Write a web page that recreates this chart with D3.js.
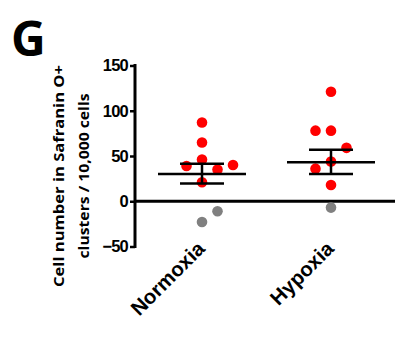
<!DOCTYPE html>
<html>
<head>
<meta charset="utf-8">
<script src="https://cdn.jsdelivr.net/npm/d3@7"></script>
<style>
  body { margin: 0; background: #fff; }
  svg { display: block; }
  text { font-family: "Liberation Sans", Arial, sans-serif; font-weight: bold; }
</style>
</head>
<body>
<svg id="chart" width="398" height="338"></svg>
<script>
// groups on the x axis
const groups = ['Normoxia', 'Hypoxia']

// red points (counted)
const normoxiaRed = [87, 65, 46, 39, 35, 40, 21]
const hypoxiaRed = [121, 78, 78, 59, 44, 36, 18]
// grey points (below zero)
const normoxiaGrey = [-23, -11]
const hypoxiaGrey = [-7]
// column of each point in the scatter (-1 left, 0 centre, 1 right)
const normoxiaRedCol = [0, 0, 0, -1, 1, 2, 0]
const hypoxiaRedCol = [0, -1, 0, 1, 0, -1, 0]
const normoxiaGreyCol = [0, 1]
const hypoxiaGreyCol = [0]

// mean and SEM
const means = [30, 43]
const semHigh = [41.5, 57]
const semLow = [19.7, 30]

const yTicks = [150, 100, 50, 0, -50]

const svg = d3.select('#chart')

const y = d3.scaleLinear().domain([-50, 150]).range([246.5, 65.5])
const x = d3.scalePoint().domain(groups).range([202, 331])
const jitter = d3.scaleLinear().domain([-1, 1]).range([-15.5, 15.5])

// panel letter
svg.append('text')
  .attr('x', 11)
  .attr('y', 56)
  .style('font-family', '"Open Sans", sans-serif')
  .style('font-size', '48px')
  .text('G')

// y axis
const axisX = 135
const yAxis = svg.append('g')
  .attr('transform', `translate(${axisX},0)`)
  .call(d3.axisLeft(y).tickValues(yTicks).tickSize(5).tickPadding(2))
yAxis.select('.domain').attr('stroke', '#000').attr('stroke-width', 3)
  .attr('d', `M0,${y(150) - 1.5}V${y(-50) + 1.5}`)
yAxis.selectAll('.tick line').attr('stroke', '#000').attr('stroke-width', 2.5)
yAxis.selectAll('.tick text')
  .attr('fill', '#000')
  .style('font-size', '16.5px')
  .style('letter-spacing', '-0.8px')

// zero line
svg.append('line')
  .attr('x1', axisX).attr('x2', 395)
  .attr('y1', y(0)).attr('y2', y(0))
  .attr('stroke', '#000').attr('stroke-width', 3)

// y axis title
const title = svg.append('text')
  .attr('transform', 'translate(0,176) rotate(-90)')
  .attr('text-anchor', 'middle')
  .style('font-family', '"Open Sans", sans-serif')
  .style('font-size', '15px')
title.append('tspan').attr('x', 0).attr('y', 64)
  .attr('textLength', 222).attr('lengthAdjust', 'spacingAndGlyphs')
  .text('Cell number in Safranin O+')
title.append('tspan').attr('x', 0).attr('y', 89)
  .attr('textLength', 165).attr('lengthAdjust', 'spacingAndGlyphs')
  .text('clusters / 10,000 cells')

// points
function dots (values, cols, group, colour) {
  svg.append('g').selectAll('circle')
    .data(values)
    .join('circle')
    .attr('cx', (d, i) => x(group) + jitter(cols[i]))
    .attr('cy', d => y(d))
    .attr('r', 5.3)
    .attr('fill', colour)
}
dots(normoxiaGrey, normoxiaGreyCol, 'Normoxia', '#808080')
dots(hypoxiaGrey, hypoxiaGreyCol, 'Hypoxia', '#808080')
dots(normoxiaRed, normoxiaRedCol, 'Normoxia', '#ff0000')
dots(hypoxiaRed, hypoxiaRedCol, 'Hypoxia', '#ff0000')

// mean and error bars
const stats = groups.map((g, i) => ({ g, mean: means[i], hi: semHigh[i], lo: semLow[i] }))
const bars = svg.append('g').attr('stroke', '#000').attr('stroke-width', 2.5)
stats.forEach(s => {
  const cx = x(s.g)
  bars.append('line').attr('x1', cx - 44).attr('x2', cx + 44).attr('y1', y(s.mean)).attr('y2', y(s.mean))
  bars.append('line').attr('x1', cx - 22).attr('x2', cx + 22).attr('y1', y(s.hi)).attr('y2', y(s.hi))
  bars.append('line').attr('x1', cx - 22).attr('x2', cx + 22).attr('y1', y(s.lo)).attr('y2', y(s.lo))
  bars.append('line').attr('x1', cx).attr('x2', cx).attr('y1', y(s.hi)).attr('y2', y(s.lo))
})

// x labels
svg.append('g').selectAll('text')
  .data(groups)
  .join('text')
  .attr('transform', d => `translate(${x(d) + 4},${250}) rotate(-45)`)
  .attr('text-anchor', 'end')
  .style('font-size', '20.5px')
  .text(d => d)
</script>
</body>
</html>
